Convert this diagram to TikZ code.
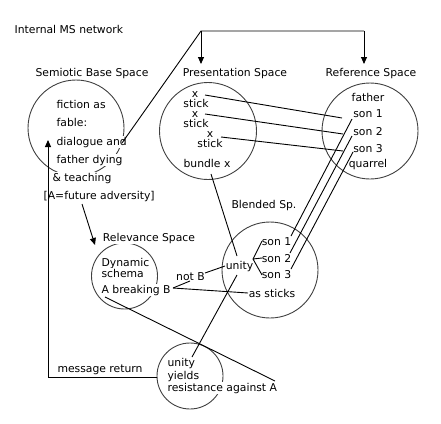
\documentclass[tikz,border=0pt]{standalone}
\usepackage{fontspec}
\setmainfont{DejaVu Sans}
\usetikzlibrary{arrows.meta}
\begin{document}
\begin{tikzpicture}[x=1pt,y=-1pt,
  font=\fontsize{10.8}{12}\selectfont,
  txt/.style={inner sep=0.4pt, fill=white},
  ring/.style={circle, draw=black!75, line width=0.9pt, inner sep=0pt},
  con/.style={line width=0.9pt, black},
  arr/.style={con, -{Triangle[length=7pt,width=6pt]}}]
\useasboundingbox (0,0) rectangle (441,423);

% circles
\node[ring, minimum size=96pt] (semC) at (76,128) {};
\node[ring, minimum size=97pt] (presC) at (208,131) {};
\node[ring, minimum size=96pt] (refC) at (370,131) {};
\node[ring, minimum size=96pt] (blendC) at (270,270) {};
\node[ring, minimum size=66pt] (relC) at (124.5,276) {};
\node[ring, minimum size=66pt] (botC) at (190,376) {};

% labels
\node[txt, anchor=base west] (title) at (14,33) {Internal MS network};
\node[txt, anchor=base] (labSem) at (92,76) {Semiotic Base Space};
\node[txt, anchor=base] (labPres) at (235,76) {Presentation Space};
\node[txt, anchor=base] (labRef) at (371,76) {Reference Space};
\node[txt, anchor=base] (labBlend) at (264,208) {Blended Sp.};
\node[txt, anchor=base] (labRel) at (149,241) {Relevance Space};

% semiotic base space
\node[txt, anchor=base west] (s1) at (56,108) {fiction as};
\node[txt, anchor=base west] (s2) at (56,126) {fable:};
\node[txt, anchor=base west] (s3) at (56,145) {dialogue and};
\node[txt, anchor=base west] (s4) at (56,163) {father dying};
\node[txt, anchor=base west] (s5) at (52,181) {\& teaching};
\node[txt, anchor=base west] (s6) at (43,199) {[A=future adversity]};

% presentation space
\node[txt, anchor=base] (px1) at (195,97) {x};
\node[txt, anchor=base] (ps1) at (196,107) {stick};
\node[txt, anchor=base] (px2) at (195,117) {x};
\node[txt, anchor=base] (ps2) at (196,127) {stick};
\node[txt, anchor=base] (px3) at (210,137) {x};
\node[txt, anchor=base] (ps3) at (210,147) {stick};
\node[txt, anchor=base] (bundle) at (207,167) {bundle x};

% reference space
\node[txt, anchor=base] (father) at (368,101) {father};
\node[txt, anchor=base] (rs1) at (368,117) {son 1};
\node[txt, anchor=base] (rs2) at (368,135) {son 2};
\node[txt, anchor=base] (rs3) at (368,152) {son 3};
\node[txt, anchor=base] (quarrel) at (368,167) {quarrel};

% blended space
\node[txt, anchor=base] (bs1) at (276.5,245) {son 1};
\node[txt, anchor=base] (bs2) at (276.5,262) {son 2};
\node[txt, anchor=base] (bs3) at (276.5,278) {son 3};
\node[txt, anchor=base] (unity) at (239.5,269) {unity};
\node[txt, anchor=base] (sticks) at (272,297) {as sticks};

% relevance space
\node[txt, anchor=base west] (dyn) at (101,266) {Dynamic};
\node[txt, anchor=base west] (schema) at (101,277) {schema};
\node[txt, anchor=base west] (abB) at (101,293) {A breaking B};
\node[txt, anchor=base] (notB) at (190.5,280) {not B};

% bottom space
\node[txt, anchor=base west] (bu1) at (167,366) {unity};
\node[txt, anchor=base west] (bu2) at (167,379) {yields};
\node[txt, anchor=base west] (bu3) at (167,391) {resistance against A};
\node[txt, anchor=base] (msg) at (100,372) {message return};

% connector end points
\coordinate (andP) at (122,143);
\coordinate (topL) at (201,31);
\coordinate (topR) at (364,31);
\coordinate (presTip) at (201,64);
\coordinate (refTip) at (364,64);
\coordinate (x1e) at (205,95);   \coordinate (r1w) at (342,118);
\coordinate (x2e) at (205,114);  \coordinate (r2w) at (343,134);
\coordinate (x3e) at (221,137);  \coordinate (r3w) at (343,151);
\coordinate (r1s) at (352,119);  \coordinate (b1n) at (291,236);
\coordinate (r2s) at (352,136);  \coordinate (b2n) at (290,253);
\coordinate (r3s) at (353,152);  \coordinate (b3n) at (291,269);
\coordinate (bunS) at (211,174); \coordinate (uniN) at (237,256);
\coordinate (uniBr) at (253,259);
\coordinate (b1w) at (262,241);  \coordinate (b2w) at (262,258); \coordinate (b3w) at (262,275);
\coordinate (notBe) at (205,273); \coordinate (uniW) at (225,266);
\coordinate (Bpt) at (173,288);  \coordinate (notBs) at (190,281);
\coordinate (stkW) at (248,293);
\coordinate (abA) at (105,297);  \coordinate (agA) at (275,381);
\coordinate (uniS) at (237,275); \coordinate (buNE) at (192,357);
\coordinate (advS) at (82,204);  \coordinate (relTip) at (95,245);
\coordinate (botW) at (157,377); \coordinate (mrCorner) at (48,377);
\coordinate (mrTip) at (48,140);

% connectors
\draw[con] (andP) -- (topL) -- (topR);
\draw[arr] (topL) -- (presTip);
\draw[arr] (topR) -- (refTip);
\draw[con] (x1e) -- (r1w);
\draw[con] (x2e) -- (r2w);
\draw[con] (x3e) -- (r3w);
\draw[con] (r1s) -- (b1n);
\draw[con] (r2s) -- (b2n);
\draw[con] (r3s) -- (b3n);
\draw[con] (bunS) -- (uniN);
\draw[con] (b1w) -- (uniBr) -- (b3w);
\draw[con] (uniBr) -- (b2w);
\draw[con] (notBe) -- (uniW);
\draw[con] (Bpt) -- (notBs);
\draw[con] (Bpt) -- (stkW);
\draw[con] (abA) -- (agA);
\draw[con] (uniS) -- (buNE);
\draw[arr] (advS) -- (relTip);
\draw[arr] (botW) -- (mrCorner) -- (mrTip);
\end{tikzpicture}
\end{document}
